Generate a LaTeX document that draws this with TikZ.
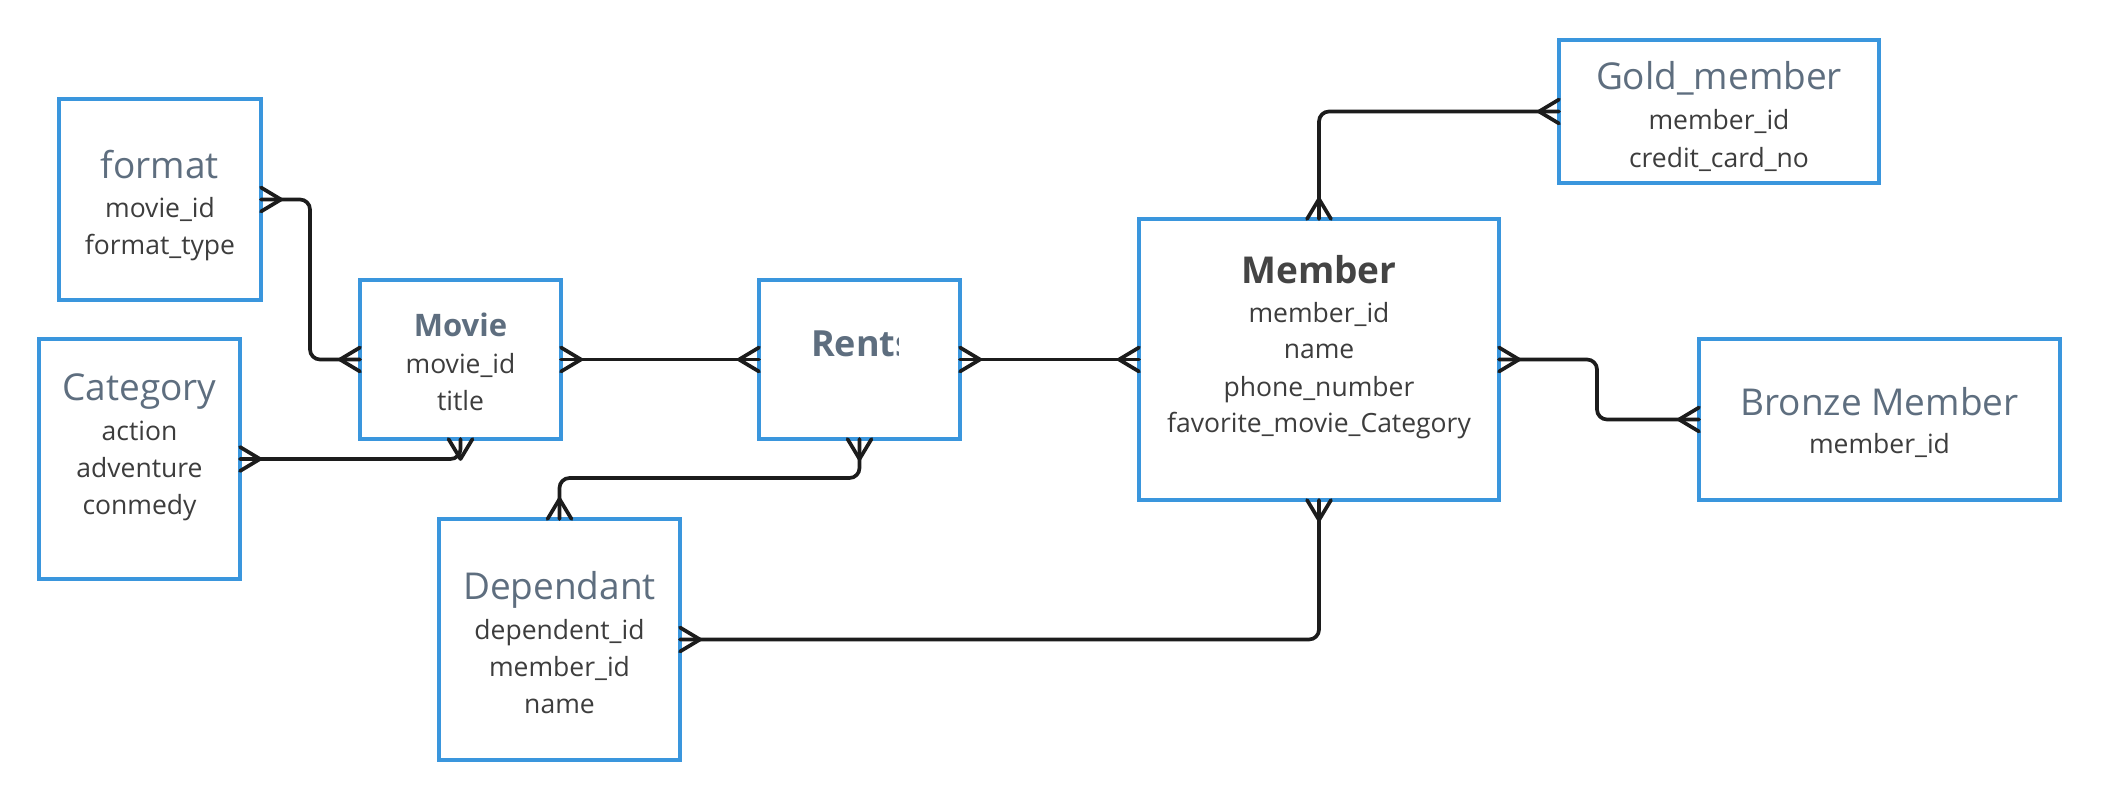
\documentclass[tikz,border=0pt]{standalone}
\usepackage{fontspec}
\setmainfont{Open Sans}
\usetikzlibrary{calc}
\definecolor{boxblue}{HTML}{3A96DD}
\definecolor{titlegray}{HTML}{5E6E7F}
\definecolor{attrgray}{HTML}{3D3D3D}
\definecolor{darktitle}{HTML}{444444}
\definecolor{linek}{HTML}{1C1C1C}
\tikzset{
  ent/.style={draw=boxblue, line width=3.5pt, fill=white, inner sep=0pt, outer sep=0pt, anchor=north west, rectangle},
  ttl/.style={anchor=base, text=titlegray, font=\fontsize{37}{44}\selectfont, inner sep=0pt},
  bttl/.style={anchor=base, text=titlegray, font=\fontsize{31}{37}\selectfont\bfseries, inner sep=0pt},
  att/.style={anchor=base, text=attrgray, font=\fontsize{26.5}{32}\selectfont, inner sep=0pt},
  conn/.style={draw=linek, line width=3.7pt, rounded corners=10pt, line join=round, line cap=round},
  foot/.style={draw=linek, line width=3.7pt, line join=round, line cap=round},
}
\newcommand{\crowfoot}[2]{\draw[foot, shift={(#1)}, rotate=#2] (0,-12) -- (20,0) -- (0,12);}
\begin{document}
\begin{tikzpicture}[x=1pt, y=-1pt]
\useasboundingbox[fill=white] (0,0) rectangle (2101,800);
% entities
\node[ent, minimum width=202pt, minimum height=201pt] (format) at (59,99) {};
\node[ent, minimum width=201pt, minimum height=240pt] (category) at (39,339) {};
\node[ent, minimum width=201pt, minimum height=159pt] (movie) at (360,280) {};
\node[ent, minimum width=201pt, minimum height=159pt] (rents) at (759,280) {};
\node[ent, minimum width=360pt, minimum height=281pt] (member) at (1139,219) {};
\node[ent, minimum width=320pt, minimum height=143pt] (gold) at (1559,40) {};
\node[ent, minimum width=361pt, minimum height=161pt] (bronze) at (1699,339) {};
\node[ent, minimum width=241pt, minimum height=241pt] (dependant) at (439,519) {};
% texts
\node[ttl] (formatT) at (160,178) {format};
\node[att] (formatA1) at (160,217) {movie\_id};
\node[att] (formatA2) at (160,254) {format\_type};
\node[ttl] (categoryT) at (139.5,400) {Category};
\node[att] (categoryA1) at (139.5,440) {action};
\node[att] (categoryA2) at (139.5,477) {adventure};
\node[att] (categoryA3) at (139.5,514) {conmedy};
\node[bttl] (movieT) at (460.5,336) {Movie};
\node[att] (movieA1) at (460.5,373) {movie\_id};
\node[att] (movieA2) at (460.5,410) {title};
\begin{scope}
  \clip (rents.north west) rectangle (898,440);
  \node[bttl, anchor=base west, font=\fontsize{36}{42}\selectfont\bfseries] (rentsT) at (811,356) {Rents};
\end{scope}
\node[bttl, text=darktitle, font=\fontsize{37}{44}\selectfont\bfseries] (memberT) at (1319,283) {Member};
\node[att] (memberA1) at (1319,322) {member\_id};
\node[att] (memberA2) at (1319,358) {name};
\node[att] (memberA3) at (1319,396) {phone\_number};
\node[att] (memberA4) at (1319,432) {favorite\_movie\_Category};
\node[ttl] (goldT) at (1719,89) {Gold\_member};
\node[att] (goldA1) at (1719,129) {member\_id};
\node[att] (goldA2) at (1719,167) {credit\_card\_no};
\node[ttl] (bronzeT) at (1879.5,415) {Bronze Member};
\node[att] (bronzeA1) at (1879.5,453) {member\_id};
\node[ttl] (dependantT) at (559.5,599) {Dependant};
\node[att] (dependantA1) at (559.5,639) {dependent\_id};
\node[att] (dependantA2) at (559.5,676) {member\_id};
\node[att] (dependantA3) at (559.5,713) {name};
% connectors
\draw[conn] (format.east) -- ++(49,0) |- (movie.west);
\draw[conn] (category.east) -| (movie.south);
\draw[conn] (movie.east) -- (rents.west);
\draw[conn] (rents.east) -- (member.west);
\draw[conn] (rents.south) -- ++(0,39) -| (dependant.north);
\draw[conn] (dependant.east) -| (member.south);
\draw[conn] (member.north) |- (gold.west);
\draw[conn] (member.east) -- ++(98,0) |- (bronze.west);
% crow's feet
\crowfoot{format.east}{0}
\crowfoot{movie.west}{180}
\crowfoot{category.east}{0}
\crowfoot{movie.south}{-90}
\crowfoot{movie.east}{0}
\crowfoot{rents.west}{180}
\crowfoot{rents.east}{0}
\crowfoot{member.west}{180}
\crowfoot{rents.south}{-90}
\crowfoot{dependant.north}{90}
\crowfoot{dependant.east}{0}
\crowfoot{member.south}{-90}
\crowfoot{member.north}{90}
\crowfoot{gold.west}{180}
\crowfoot{member.east}{0}
\crowfoot{bronze.west}{180}
\end{tikzpicture}
\end{document}
